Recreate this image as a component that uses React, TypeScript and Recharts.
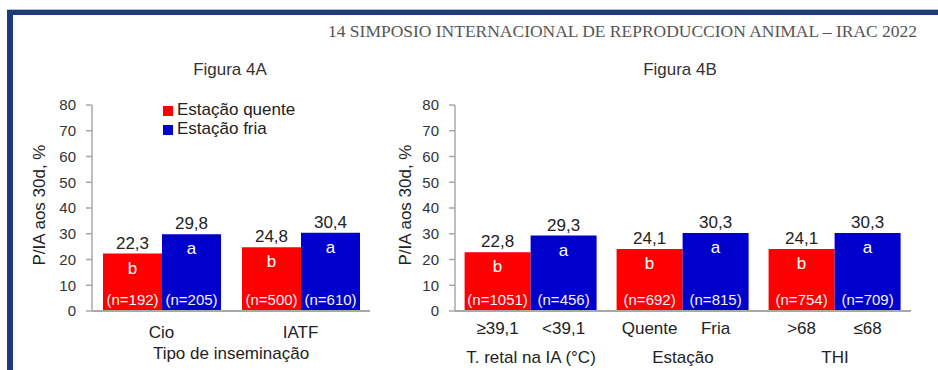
import React from 'react';
import { BarChart, Bar, XAxis, YAxis, LabelList, Legend, Label } from 'recharts';

// ---------- data ----------
const leftCategories = ['Cio', 'IATF'];
const leftHot = [22.3, 24.8];
const leftCold = [29.8, 30.4];
const leftHotN = [192, 500];
const leftColdN = [205, 610];
const leftHotLetters = ['b', 'b'];
const leftColdLetters = ['a', 'a'];

const rightCategories = ['T. retal na IA (°C)', 'Estação', 'THI'];
const rightHotSub = ['≥39,1', 'Quente', '>68'];
const rightColdSub = ['<39,1', 'Fria', '≤68'];
const rightHot = [22.8, 24.1, 24.1];
const rightCold = [29.3, 30.3, 30.3];
const rightHotN = [1051, 692, 754];
const rightColdN = [456, 815, 709];
const rightHotLetters = ['b', 'b', 'b'];
const rightColdLetters = ['a', 'a', 'a'];

const yTicks = [0, 10, 20, 30, 40, 50, 60, 70, 80];
const seriesNames = ['Estação quente', 'Estação fria'];
const headerText = '14 SIMPOSIO INTERNACIONAL DE REPRODUCCION ANIMAL – IRAC 2022';
const figureTitles = ['Figura 4A', 'Figura 4B'];
const yTitle = 'P/IA aos 30d, %';
const leftXTitle = 'Tipo de inseminação';

// ---------- styles ----------
const RED = '#FF0000';
const BLUE = '#0000CC';
const NAVY = '#1d3a7c';
const AXIS = '#a8a8a8';
const TEXT = '#222222';
const FONT = '"Liberation Sans", Arial, sans-serif';

const leftData = leftCategories.map((c, i) => ({
  cat: c,
  hot: leftHot[i],
  cold: leftCold[i],
  hotN: `(n=${leftHotN[i]})`,
  coldN: `(n=${leftColdN[i]})`,
  hotL: leftHotLetters[i],
  coldL: leftColdLetters[i],
}));

const rightData = rightCategories.map((c, i) => ({
  cat: c,
  hot: rightHot[i],
  cold: rightCold[i],
  hotN: `(n=${rightHotN[i]})`,
  coldN: `(n=${rightColdN[i]})`,
  hotL: rightHotLetters[i],
  coldL: rightColdLetters[i],
  hotSub: rightHotSub[i],
  coldSub: rightColdSub[i],
}));

const fmt = (v: any) => Number(v).toFixed(1).replace('.', ',');

const renderLetter = (props: any) => {
  const x = Number(props.x), y = Number(props.y), w = Number(props.width);
  return (
    <text x={x + w / 2} y={y + 20} textAnchor="middle" fill="#ffffff" fontSize={17} fontFamily={FONT}>
      {props.value}
    </text>
  );
};

const renderN = (props: any) => {
  const x = Number(props.x), y = Number(props.y), w = Number(props.width), h = Number(props.height);
  return (
    <text x={x + w / 2} y={y + h - 6} textAnchor="middle" fill="#f4f4ff" fontSize={15} fontFamily={FONT}>
      {props.value}
    </text>
  );
};

const renderSub = (props: any) => {
  const x = Number(props.x), y = Number(props.y), w = Number(props.width), h = Number(props.height);
  return (
    <text x={x + w / 2} y={y + h + 23} textAnchor="middle" fill={TEXT} fontSize={17} fontFamily={FONT}>
      {props.value}
    </text>
  );
};

const makeYTitle = (dx: number) => (props: any) => {
  const vb = props.viewBox || {};
  const cx = vb.x + dx;
  const cy = vb.y + vb.height / 2 - 3;
  return (
    <text
      x={cx}
      y={cy}
      transform={`rotate(-90 ${cx} ${cy})`}
      textAnchor="middle"
      dominantBaseline="central"
      fontSize={17}
      fill={TEXT}
      fontFamily={FONT}
    >
      {yTitle}
    </text>
  );
};

const makeXTick = (dy: number) => (props: any) => {
  const { x, y, payload } = props;
  return (
    <text x={x} y={y} dy={dy} textAnchor="middle" fontSize={17} fill={TEXT} fontFamily={FONT}>
      {payload.value}
    </text>
  );
};

const renderLeftXTitle = (props: any) => {
  const vb = props.viewBox || {};
  return (
    <text x={vb.x + vb.width / 2} y={vb.y + 48} textAnchor="middle" fontSize={17} fill={TEXT} fontFamily={FONT}>
      {leftXTitle}
    </text>
  );
};

const yAxisCommon = {
  domain: [0, 80] as [number, number],
  ticks: yTicks,
  interval: 0 as const,
  tickSize: 6,
  tickMargin: 10,
  axisLine: { stroke: AXIS, strokeWidth: 1.5 },
  tickLine: { stroke: AXIS, strokeWidth: 1.5 },
  tick: { fill: '#333333', fontSize: 15, fontFamily: FONT },
};

const legendOrder = (item: any) => seriesNames.indexOf(item.value);

export default function App() {
  return (
    <div
      style={{
        position: 'absolute',
        left: 0,
        top: 0,
        width: 938,
        height: 370,
        background: '#ffffff',
        fontFamily: FONT,
        overflow: 'hidden',
      }}
    >
      <svg width={938} height={370} style={{ position: 'absolute', left: 0, top: 0 }}>
        <rect x={7} y={9} width={931} height={1} fill="#b8bcc8" />
        <rect x={7} y={10} width={931} height={5} fill={NAVY} />
        <rect x={7} y={10} width={6} height={360} fill={NAVY} />
        <text
          x={328}
          y={37}
          textLength={589}
          lengthAdjust="spacingAndGlyphs"
          fontSize={16}
          fill="#555555"
          fontFamily='"Liberation Serif", "Times New Roman", serif'
        >
          {headerText}
        </text>
        <text x={230} y={75} textAnchor="middle" fontSize={17} fill="#333333" fontFamily={FONT}>
          {figureTitles[0]}
        </text>
        <text x={680} y={75} textAnchor="middle" fontSize={17} fill="#333333" fontFamily={FONT}>
          {figureTitles[1]}
        </text>
      </svg>

      <div style={{ position: 'absolute', left: 0, top: 0 }}>
        <BarChart
          width={400}
          height={370}
          data={leftData}
          margin={{ top: 105, right: 30, bottom: 0, left: 20 }}
          barCategoryGap={11}
          barGap={0}
        >
          <XAxis
            dataKey="cat"
            height={59}
            tickLine={false}
            tickSize={0}
            tickMargin={0}
            axisLine={{ stroke: AXIS, strokeWidth: 2 }}
            tick={makeXTick(27)}
            interval={0}
          >
            <Label content={renderLeftXTitle} />
          </XAxis>
          <YAxis width={72} {...yAxisCommon}>
            <Label content={makeYTitle(19)} />
          </YAxis>
          <Legend
            layout="vertical"
            align="center"
            verticalAlign="middle"
            iconType="square"
            iconSize={10}
            itemSorter={legendOrder}
            wrapperStyle={{ left: 163, top: 100, width: 'auto', fontSize: 17, lineHeight: '19px' }}
            formatter={(v: any) => <span style={{ color: TEXT }}>{v}</span>}
          />
          <Bar dataKey="hot" name={seriesNames[0]} fill={RED} isAnimationActive={false}>
            <LabelList dataKey="hot" position="top" offset={5} formatter={fmt} fill={TEXT} fontSize={17} />
            <LabelList dataKey="hotL" content={renderLetter} />
            <LabelList dataKey="hotN" content={renderN} />
          </Bar>
          <Bar dataKey="cold" name={seriesNames[1]} fill={BLUE} isAnimationActive={false}>
            <LabelList dataKey="cold" position="top" offset={5} formatter={fmt} fill={TEXT} fontSize={17} />
            <LabelList dataKey="coldL" content={renderLetter} />
            <LabelList dataKey="coldN" content={renderN} />
          </Bar>
        </BarChart>
      </div>

      <div style={{ position: 'absolute', left: 380, top: 0 }}>
        <BarChart
          width={558}
          height={370}
          data={rightData}
          margin={{ top: 105, right: 27, bottom: 0, left: 5 }}
          barCategoryGap={9.6}
          barGap={0}
        >
          <XAxis
            dataKey="cat"
            height={59}
            tickLine={false}
            tickSize={0}
            tickMargin={0}
            axisLine={{ stroke: AXIS, strokeWidth: 2 }}
            tick={makeXTick(52)}
            interval={0}
          />
          <YAxis width={70} {...yAxisCommon}>
            <Label content={makeYTitle(20)} />
          </YAxis>
          <Bar dataKey="hot" name={seriesNames[0]} fill={RED} isAnimationActive={false}>
            <LabelList dataKey="hot" position="top" offset={5} formatter={fmt} fill={TEXT} fontSize={17} />
            <LabelList dataKey="hotL" content={renderLetter} />
            <LabelList dataKey="hotN" content={renderN} />
            <LabelList dataKey="hotSub" content={renderSub} />
          </Bar>
          <Bar dataKey="cold" name={seriesNames[1]} fill={BLUE} isAnimationActive={false}>
            <LabelList dataKey="cold" position="top" offset={5} formatter={fmt} fill={TEXT} fontSize={17} />
            <LabelList dataKey="coldL" content={renderLetter} />
            <LabelList dataKey="coldN" content={renderN} />
            <LabelList dataKey="coldSub" content={renderSub} />
          </Bar>
        </BarChart>
      </div>
    </div>
  );
}
